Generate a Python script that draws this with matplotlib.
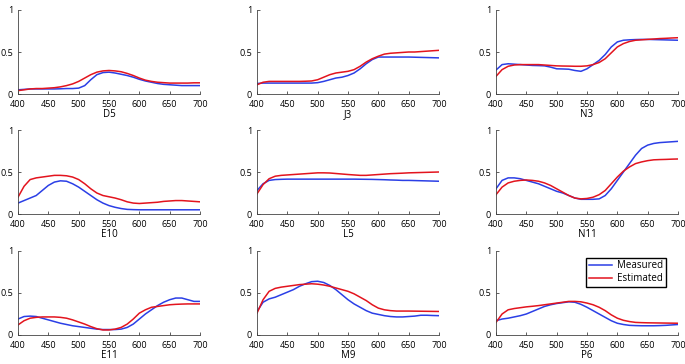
import numpy as np
import matplotlib
matplotlib.use("Agg")
import matplotlib.pyplot as plt

# Longitudes de onda (nm)
wl = np.arange(400, 701, 10)

names = ["D5", "J3", "N3", "E10", "L5", "N11", "E11", "M9", "P6"]

# Medidas (azul) y estimadas (rojo)
D5_meas = [0.05, 0.055, 0.06, 0.06, 0.06, 0.06, 0.06, 0.062, 0.065, 0.065, 0.07, 0.1, 0.17, 0.23, 0.255, 0.26,
           0.25, 0.235, 0.22, 0.2, 0.175, 0.155, 0.14, 0.125, 0.115, 0.11, 0.105, 0.1, 0.1, 0.1, 0.1]
D5_est = [0.04, 0.05, 0.06, 0.065, 0.065, 0.07, 0.075, 0.085, 0.1, 0.12, 0.15, 0.19, 0.23, 0.26, 0.275, 0.28,
          0.275, 0.265, 0.245, 0.22, 0.19, 0.165, 0.15, 0.14, 0.135, 0.13, 0.13, 0.13, 0.13, 0.133, 0.133]

J3_meas = [0.125, 0.13, 0.13, 0.13, 0.13, 0.13, 0.13, 0.13, 0.13, 0.13, 0.135, 0.15, 0.17, 0.19, 0.2, 0.22,
           0.25, 0.3, 0.36, 0.41, 0.44, 0.44, 0.44, 0.44, 0.44, 0.44, 0.438, 0.436, 0.434, 0.432, 0.43]
J3_est = [0.11, 0.14, 0.15, 0.15, 0.15, 0.15, 0.15, 0.15, 0.152, 0.155, 0.17, 0.2, 0.23, 0.25, 0.26, 0.27,
          0.29, 0.33, 0.38, 0.42, 0.45, 0.475, 0.485, 0.49, 0.495, 0.5, 0.5, 0.505, 0.51, 0.515, 0.52]

N3_meas = [0.285, 0.35, 0.36, 0.355, 0.35, 0.345, 0.34, 0.338, 0.335, 0.32, 0.3, 0.298, 0.295, 0.28, 0.27, 0.3,
           0.35, 0.4, 0.47, 0.56, 0.62, 0.64, 0.645, 0.648, 0.65, 0.65, 0.648, 0.646, 0.644, 0.642, 0.64]
N3_est = [0.21, 0.29, 0.33, 0.345, 0.35, 0.35, 0.35, 0.35, 0.345, 0.34, 0.335, 0.333, 0.332, 0.33, 0.33, 0.335,
          0.35, 0.375, 0.42, 0.49, 0.56, 0.6, 0.625, 0.64, 0.645, 0.65, 0.655, 0.66, 0.663, 0.667, 0.67]

E10_meas = [0.13, 0.16, 0.19, 0.22, 0.28, 0.34, 0.38, 0.395, 0.39, 0.36, 0.32, 0.27, 0.22, 0.17, 0.13, 0.1,
            0.08, 0.065, 0.055, 0.052, 0.05, 0.05, 0.05, 0.05, 0.05, 0.05, 0.05, 0.05, 0.05, 0.05, 0.05]
E10_est = [0.2, 0.33, 0.41, 0.43, 0.44, 0.45, 0.46, 0.46, 0.455, 0.44, 0.41, 0.36, 0.3, 0.25, 0.22, 0.205,
           0.19, 0.17, 0.145, 0.13, 0.125, 0.13, 0.135, 0.14, 0.15, 0.155, 0.16, 0.16, 0.155, 0.15, 0.145]

L5_meas = [0.28, 0.36, 0.4, 0.41, 0.413, 0.415, 0.415, 0.415, 0.415, 0.415, 0.415, 0.415, 0.415, 0.415, 0.415,
           0.415, 0.415, 0.414, 0.413, 0.412, 0.41, 0.408, 0.405, 0.403, 0.4, 0.4, 0.398, 0.396, 0.394, 0.392, 0.39]
L5_est = [0.24, 0.35, 0.42, 0.45, 0.46, 0.465, 0.47, 0.475, 0.48, 0.485, 0.49, 0.49, 0.488, 0.482, 0.476, 0.47,
          0.465, 0.46, 0.46, 0.465, 0.47, 0.475, 0.48, 0.483, 0.486, 0.49, 0.492, 0.494, 0.496, 0.498, 0.5]

N11_meas = [0.3, 0.4, 0.43, 0.43, 0.42, 0.4, 0.38, 0.36, 0.33, 0.3, 0.27, 0.25, 0.22, 0.19, 0.175, 0.175,
            0.175, 0.18, 0.22, 0.3, 0.4, 0.5, 0.6, 0.7, 0.78, 0.82, 0.84, 0.85, 0.855, 0.86, 0.865]
N11_est = [0.23, 0.32, 0.37, 0.39, 0.4, 0.405, 0.4, 0.39, 0.37, 0.34, 0.3, 0.26, 0.22, 0.19, 0.18, 0.185,
           0.2, 0.23, 0.28, 0.36, 0.44, 0.51, 0.56, 0.6, 0.62, 0.635, 0.645, 0.648, 0.65, 0.653, 0.655]

E11_meas = [0.19, 0.22, 0.225, 0.22, 0.2, 0.18, 0.16, 0.14, 0.125, 0.11, 0.1, 0.09, 0.08, 0.07, 0.065, 0.065,
            0.065, 0.07, 0.09, 0.13, 0.19, 0.25, 0.3, 0.35, 0.39, 0.42, 0.44, 0.44, 0.42, 0.4, 0.4]
E11_est = [0.12, 0.17, 0.2, 0.21, 0.215, 0.215, 0.215, 0.21, 0.2, 0.18, 0.155, 0.13, 0.1, 0.075, 0.06, 0.06,
           0.07, 0.09, 0.13, 0.19, 0.26, 0.3, 0.33, 0.34, 0.35, 0.36, 0.365, 0.368, 0.37, 0.37, 0.37]

M9_meas = [0.28, 0.39, 0.43, 0.45, 0.48, 0.51, 0.54, 0.58, 0.61, 0.635, 0.64, 0.625, 0.59, 0.54, 0.48, 0.42,
           0.37, 0.33, 0.29, 0.26, 0.245, 0.23, 0.22, 0.215, 0.215, 0.22, 0.225, 0.235, 0.235, 0.232, 0.23]
M9_est = [0.26, 0.42, 0.52, 0.555, 0.57, 0.58, 0.59, 0.6, 0.605, 0.61, 0.605, 0.595, 0.58, 0.56, 0.54, 0.52,
          0.49, 0.45, 0.41, 0.36, 0.32, 0.3, 0.29, 0.285, 0.285, 0.285, 0.284, 0.283, 0.282, 0.281, 0.28]

P6_meas = [0.17, 0.19, 0.2, 0.215, 0.23, 0.25, 0.28, 0.31, 0.34, 0.36, 0.375, 0.385, 0.395, 0.39, 0.365, 0.33,
           0.29, 0.25, 0.21, 0.17, 0.14, 0.125, 0.115, 0.112, 0.11, 0.11, 0.11, 0.112, 0.115, 0.12, 0.125]
P6_est = [0.15, 0.25, 0.3, 0.315, 0.325, 0.335, 0.342, 0.35, 0.36, 0.37, 0.38, 0.39, 0.4, 0.4, 0.395, 0.38,
          0.36, 0.33, 0.29, 0.24, 0.2, 0.175, 0.16, 0.15, 0.147, 0.145, 0.144, 0.143, 0.142, 0.141, 0.14]

measured = [D5_meas, J3_meas, N3_meas, E10_meas, L5_meas, N11_meas, E11_meas, M9_meas, P6_meas]
estimated = [D5_est, J3_est, N3_est, E10_est, L5_est, N11_est, E11_est, M9_est, P6_est]

plt.rcParams["font.family"] = ["Open Sans", "DejaVu Sans"]

fig = plt.figure(figsize=(6.85, 3.64), dpi=100)

lefts = [18 / 685, 257 / 685, 496 / 685]
bottoms = [1 - 94 / 364, 1 - 214 / 364, 1 - 335 / 364]
w = 182 / 685
h = 84 / 364

for k in range(9):
    r, c = divmod(k, 3)
    ax = fig.add_axes([lefts[c], bottoms[r], w, h])
    ax.plot(wl, measured[k], color="#2b3fe6", linewidth=1.1, label="Measured")
    ax.plot(wl, estimated[k], color="#e3141e", linewidth=1.1, label="Estimated")
    ax.set_xlim(400, 700)
    ax.set_ylim(0, 1)
    ax.set_xticks(range(400, 701, 50))
    ax.set_yticks([0, 0.5, 1])
    ax.set_yticklabels(["0", "0.5", "1"])
    ax.spines["top"].set_visible(False)
    ax.spines["right"].set_visible(False)
    for s in ["left", "bottom"]:
        ax.spines[s].set_color("#444444")
        ax.spines[s].set_linewidth(0.6)
    ax.tick_params(direction="in", length=2, width=0.6, labelsize=6.5, color="#444444")
    ax.tick_params(axis="x", pad=4.5)
    ax.tick_params(axis="y", pad=3.5)
    ax.set_xlabel(names[k], fontsize=7, labelpad=0)
    if k == 8:
        ax.legend(loc="upper right", fontsize=7, frameon=True, fancybox=False,
                  edgecolor="black", framealpha=1, handlelength=2.4, handletextpad=0.5,
                  borderpad=0.3, labelspacing=0.15, bbox_to_anchor=(0.96, 0.98))

fig.savefig("out.png", dpi=100)
